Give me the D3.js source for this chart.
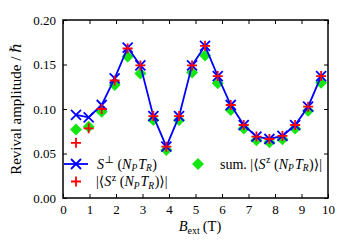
<!DOCTYPE html>
<html><head><meta charset="utf-8">
<script src="https://cdn.jsdelivr.net/npm/d3@7"></script>
<style>body{margin:0;background:#fff}svg{display:block}</style>
</head><body><svg id="c" width="350" height="250"></svg>
<script>
const bField = [0.49, 0.97, 1.46, 1.95, 2.44, 2.92, 3.41, 3.90, 4.38, 4.87, 5.36, 5.84, 6.33, 6.82, 7.30, 7.79, 8.28, 8.76, 9.25, 9.74];
const sPerp = [0.0933, 0.0907, 0.1045, 0.1345, 0.169, 0.149, 0.092, 0.0577, 0.092, 0.149, 0.171, 0.137, 0.1045, 0.082, 0.069, 0.0663, 0.0697, 0.082, 0.1026, 0.137];
const sZ = [0.062, 0.0783, 0.100, 0.132, 0.168, 0.149, 0.092, 0.0577, 0.092, 0.149, 0.171, 0.137, 0.1045, 0.082, 0.069, 0.0663, 0.0697, 0.082, 0.1026, 0.137];
const sZsum = [0.077, 0.080, 0.097, 0.127, 0.159, 0.140, 0.0876, 0.054, 0.0876, 0.141, 0.160, 0.129, 0.099, 0.078, 0.065, 0.0626, 0.066, 0.078, 0.098, 0.1296];
const xTicks = [0,1,2,3,4,5,6,7,8,9,10];
const yTicks = [0, 0.05, 0.10, 0.15, 0.20];

const FF = "Liberation Serif, DejaVu Serif, serif";
const svg = d3.select("#c");
const L=63, R=328, T=20, B=198;
const x = d3.scaleLinear().domain([0,10]).range([L,R]);
const y = d3.scaleLinear().domain([0,0.2]).range([B,T]);
const fs = 13;

const tl = 4;
svg.append("g").attr("transform",`translate(0,${B})`)
  .call(d3.axisBottom(x).tickValues(xTicks).tickSizeInner(-tl).tickSizeOuter(0).tickPadding(7).tickFormat(d3.format("d")))
  .call(g=>{g.select(".domain").remove();g.selectAll("text").attr("font-size",fs).attr("font-family",FF).attr("fill","#000");});
svg.append("g").attr("transform",`translate(0,${T})`)
  .call(d3.axisTop(x).tickValues(xTicks).tickSizeInner(-tl).tickSizeOuter(0).tickFormat(""))
  .call(g=>g.select(".domain").remove());
svg.append("g").attr("transform",`translate(${L},0)`)
  .call(d3.axisLeft(y).tickValues(yTicks).tickSizeInner(-tl).tickSizeOuter(0).tickPadding(7).tickFormat(d3.format(".2f")))
  .call(g=>{g.select(".domain").remove();g.selectAll("text").attr("font-size",fs).attr("font-family",FF).attr("fill","#000");});
svg.append("g").attr("transform",`translate(${R},0)`)
  .call(d3.axisRight(y).tickValues(yTicks).tickSizeInner(-tl).tickSizeOuter(0).tickFormat(""))
  .call(g=>g.select(".domain").remove());
svg.selectAll(".tick line").attr("stroke","#000").attr("stroke-width",1);
svg.append("rect").attr("x",L).attr("y",T).attr("width",R-L).attr("height",B-T)
  .attr("fill","none").attr("stroke","#000").attr("stroke-width",1.5);

const blue="#0000ff", red="#ff0000", green="#14e614";
const data = bField.map((b,i)=>({b, p:sPerp[i], z:sZ[i], s:sZsum[i]}));

function diamond(g,cx,cy,r){g.append("path").attr("d",`M${cx},${cy-r}L${cx+r},${cy}L${cx},${cy+r}L${cx-r},${cy}Z`).attr("fill",green);}
function cross(g,cx,cy,r,c){g.append("path").attr("d",`M${cx-r},${cy-r}L${cx+r},${cy+r}M${cx-r},${cy+r}L${cx+r},${cy-r}`).attr("stroke",c).attr("stroke-width",1.8).attr("fill","none");}
function plus(g,cx,cy,r,c){g.append("path").attr("d",`M${cx-r},${cy}L${cx+r},${cy}M${cx},${cy-r}L${cx},${cy+r}`).attr("stroke",c).attr("stroke-width",1.8).attr("fill","none");}

const gm = svg.append("g");
data.forEach(d=>diamond(gm,x(d.b),y(d.s),6));
gm.append("path").datum(data).attr("fill","none").attr("stroke",blue).attr("stroke-width",1.8)
  .attr("d",d3.line().x(d=>x(d.b)).y(d=>y(d.p)));
data.forEach(d=>cross(gm,x(d.b),y(d.p),5,blue));
data.forEach(d=>plus(gm,x(d.b),y(d.z),5,red));

// legend
const lg = svg.append("g");
lg.append("line").attr("x1",64).attr("x2",88).attr("y1",164).attr("y2",164).attr("stroke",blue).attr("stroke-width",1.8);
cross(lg,76,164,5,blue);
plus(lg,76,181.5,5,red);
diamond(lg,198,164,6);

const lfs = 14;
function mathLabel(t, prefix, sup){
  if(prefix) t.append("tspan").text(prefix);
  t.append("tspan").attr("font-style","italic").text("S");
  t.append("tspan").attr("font-size",10).attr("dy",-5.5).attr("dx",0.5).text(sup);
  t.append("tspan").attr("dy",5.5).attr("dx",3.5).text("(");
  t.append("tspan").attr("font-style","italic").text("N");
  t.append("tspan").attr("font-style","italic").attr("font-size",9.5).attr("dy",2.5).text("P");
  t.append("tspan").attr("dy",-2.5).attr("dx",1).attr("font-style","italic").text("T");
  t.append("tspan").attr("font-style","italic").attr("font-size",9.5).attr("dy",2.5).text("R");
  t.append("tspan").attr("dy",-2.5).attr("dx",0.5).text(")");
}
const t1 = lg.append("text").attr("x",97).attr("y",168.5).attr("font-size",lfs).attr("font-family",FF);
mathLabel(t1,"","⊥");
const t2 = lg.append("text").attr("x",96).attr("y",186).attr("font-size",lfs).attr("font-family",FF);
mathLabel(t2,"|⟨","z"); t2.append("tspan").text("⟩|");
const t3 = lg.append("text").attr("x",220).attr("y",168.5).attr("font-size",lfs).attr("font-family",FF);
mathLabel(t3,"sum. |⟨","z"); t3.append("tspan").text("⟩|");

// axis labels
const xl = svg.append("text").attr("x",200).attr("y",231).attr("text-anchor","middle").attr("font-size",14.5).attr("font-family",FF);
xl.append("tspan").attr("font-style","italic").text("B");
xl.append("tspan").attr("font-size",10).attr("dy",3).text("ext");
xl.append("tspan").attr("dy",-3).attr("dx",3).text("(T)");
svg.append("text").attr("transform",`translate(21,${(T+B)/2}) rotate(-90)`).attr("text-anchor","middle").attr("font-size",15).attr("font-family",FF)
  .text("Revival amplitude / ℏ");
</script></body></html>
